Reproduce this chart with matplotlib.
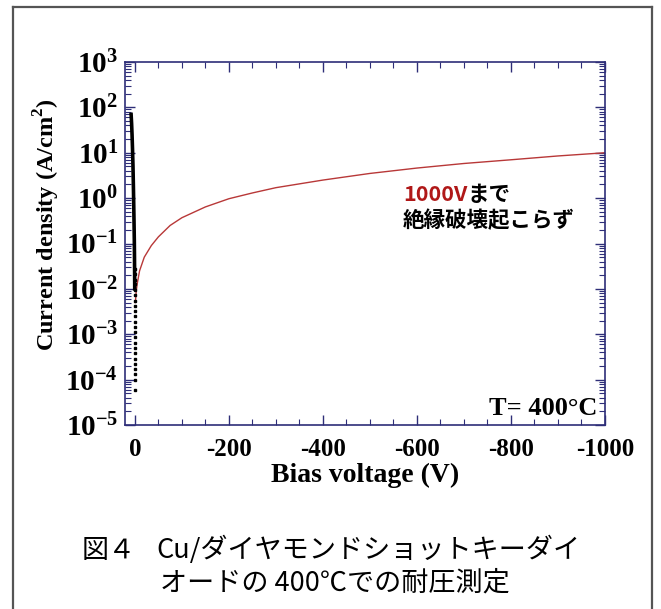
import matplotlib
matplotlib.use("Agg")
import matplotlib.pyplot as plt
from matplotlib.ticker import FixedLocator, LogLocator, NullFormatter, MultipleLocator
from matplotlib.lines import Line2D

# ---- data ----
rev_v = [-1, -3, -5, -10, -20, -35, -50, -75, -100, -150, -200, -250, -300,
         -400, -500, -600, -700, -800, -900, -1000]
rev_j = [0.005, 0.009, 0.013, 0.025, 0.05, 0.09, 0.14, 0.25, 0.37, 0.64, 0.97,
         1.3, 1.7, 2.5, 3.5, 4.6, 5.8, 7.0, 8.5, 10.0]

fwd_v = [0.3, 0.5, 0.8, 1.2, 1.8, 2.5, 3.2, 4.0, 5.0, 6.0, 7.0, 8.0]
fwd_j = [0.01, 0.02, 0.05, 0.12, 0.3, 0.8, 2.0, 5.0, 12.0, 25.0, 45.0, 70.0]

dot_v = [0.2] * 22 + [0.5]
dot_j = [1.0e-4, 1.3e-4, 1.7e-4, 2.2e-4, 2.9e-4, 3.8e-4, 5.0e-4, 6.5e-4,
         8.5e-4, 1.1e-3, 1.45e-3, 1.9e-3, 2.5e-3, 3.2e-3, 4.2e-3, 5.5e-3,
         7.2e-3, 9.4e-3, 1.25e-2, 1.6e-2, 2.1e-2, 2.8e-2, 6.0e-5]

x_ticks = [0, -200, -400, -600, -800, -1000]
x_labels = ["0", "-200", "-400", "-600", "-800", "-1000"]
y_exps = [3, 2, 1, 0, -1, -2, -3, -4, -5]

plt.rcParams['mathtext.fontset'] = 'custom'
plt.rcParams['mathtext.bf'] = 'Liberation Serif:bold'
plt.rcParams['mathtext.rm'] = 'Liberation Serif:bold'

W, H = 661, 609
fig = plt.figure(figsize=(W / 100, H / 100), dpi=100)
fig.patch.set_facecolor('white')

ax = fig.add_axes([125 / W, 1 - 425 / H, (605 - 125) / W, (425 - 62) / H])
axcol = '#2e2e78'

ax.plot(rev_v, rev_j, color='#b83838', lw=1.0)
ax.plot(fwd_v, fwd_j, color='black', lw=2.6)
ax.plot(dot_v, dot_j, linestyle='none', marker='s', ms=1.8, color='black')

ax.set_yscale('log')
ax.set_xlim(21, -1000)
ax.set_ylim(1e-5, 1e3)

ax.xaxis.set_major_locator(FixedLocator(x_ticks))
ax.set_xticklabels(x_labels)
ax.xaxis.set_minor_locator(MultipleLocator(50))
ax.yaxis.set_major_locator(FixedLocator([10.0 ** e for e in y_exps]))
ax.set_yticklabels([r'$\mathbf{10^{%d}}$' % e for e in y_exps])
ax.yaxis.set_minor_locator(LogLocator(base=10, subs=range(2, 10), numticks=20))
ax.yaxis.set_minor_formatter(NullFormatter())

for s in ax.spines.values():
    s.set_color(axcol)
    s.set_linewidth(1.2)
ax.tick_params(which='both', direction='in', top=True, right=True, colors=axcol)
ax.tick_params(which='major', length=7, width=1.0)
ax.tick_params(which='minor', length=4, width=0.8)
ax.tick_params(axis='x', which='major', labelsize=18, pad=9, labelcolor='black')
ax.tick_params(axis='y', which='major', labelsize=21, pad=5, labelcolor='black')
for lab in ax.get_xticklabels():
    lab.set_fontfamily('Liberation Serif')
    lab.set_fontweight('bold')

ax.set_xlabel('Bias voltage (V)', fontsize=20, fontfamily='Liberation Serif',
              fontweight='bold', labelpad=2)
ax.set_ylabel(r'Current density (A/cm$^{\mathbf{2}}$)', fontsize=17.5,
              fontfamily='Liberation Serif', fontweight='bold')
ax.yaxis.set_label_coords((62 - 125) / 480, (425 - 225) / 363)

ax.text(-983, 1.7e-5, 'T= 400°C', ha='right', va='baseline', fontsize=19,
        fontfamily='Liberation Serif', fontweight='bold')

cjk = ['Noto Sans CJK JP', 'DejaVu Sans']
t1 = fig.text(403 / W, 1 - 195 / H, '1000V', color='#b01818', fontsize=15.5,
              family=cjk, va='center', ha='left', fontweight='bold')
fig.canvas.draw()
bb = t1.get_window_extent()
fig.text(bb.x1 / W, 1 - 195 / H, 'まで', color='black', fontsize=15.5,
         family=cjk, va='center', ha='left', fontweight='bold')
fig.text(403 / W, 1 - 220 / H, '絶縁破壊起こらず', color='black', fontsize=15.5,
         family=cjk, va='center', ha='left', fontweight='bold')

fig.text(82 / W, 1 - 550 / H, '図４', fontsize=19.5, family=cjk, va='center', ha='left')
fig.text(156 / W, 1 - 550 / H, 'Cu/ダイヤモンドショットキーダイ', fontsize=19.5,
         family=cjk, va='center', ha='left')
fig.text(160 / W, 1 - 583 / H, 'オードの 400℃での耐圧測定', fontsize=19.5,
         family=cjk, va='center', ha='left')

# outer frame (open at the bottom)
fc = '#555555'
fig.add_artist(Line2D([12.5 / W, 12.5 / W], [0, 1 - 7 / H], color=fc, lw=1.6,
                      transform=fig.transFigure))
fig.add_artist(Line2D([12.5 / W, 652 / W], [1 - 7 / H, 1 - 7 / H], color=fc, lw=1.6,
                      transform=fig.transFigure))
fig.add_artist(Line2D([652 / W, 652 / W], [0, 1 - 7 / H], color=fc, lw=1.6,
                      transform=fig.transFigure))

fig.savefig('out.png', dpi=100, facecolor='white')
